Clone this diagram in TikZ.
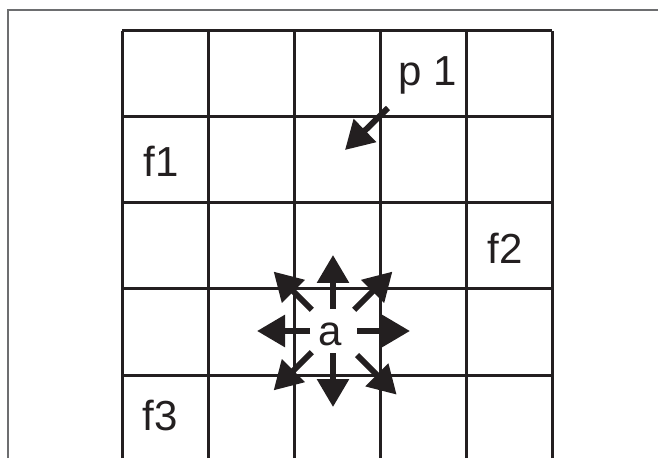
\documentclass[tikz,border=0pt]{standalone}
\usepackage{fontspec}
\setmainfont{Liberation Sans}
\usetikzlibrary{arrows.meta, calc}
\definecolor{inkblack}{HTML}{231F20}
\definecolor{framegray}{HTML}{6D6E70}
\tikzset{
  cellline/.style={line width=3pt, color=inkblack},
  push/.style={-{Triangle[length=28pt, width=31pt]}, line width=6pt, color=inkblack},
  every node/.append style={font=\fontsize{42}{46}\selectfont, inner sep=0pt, anchor=base, text=inkblack}
}

\begin{document}
\begin{tikzpicture}[x=1pt, y=1pt]
\useasboundingbox (0,0) rectangle (658,458);
\draw[framegray, line width=1.5pt] (8,0) -- (8,448) -- (658,448);
% grid
\foreach \gx in {122,208,294,380,466,552}
  \draw[cellline] (\gx,0) -- (\gx,427);
\foreach \gy in {427,341,255,169,83}
  \draw[cellline] (122,\gy) -- (552,\gy);
% labels
\node (f1) at (161,281) {f1};
\node (f2) at (505,194) {f2};
\node (f3) at (160,28) {f3};
\node (p1) at (428,372) {p 1};
\node (a) at (330,113) {a};
\coordinate (A) at (333,127);
% spreading from a
\draw[push] ($(A)+(90:22)$) -- ($(A)+(90:76)$);
\draw[push] ($(A)+(270:22)$) -- ($(A)+(270:76)$);
\draw[push] ($(A)+(180:23)$) -- ($(A)+(180:76)$);
\draw[push] ($(A)+(0:24)$) -- ($(A)+(0:77)$);
\draw[push] ($(A)+(45:30)$) -- ($(A)+(45:84)$);
\draw[push] ($(A)+(135:30)$) -- ($(A)+(135:84)$);
\draw[push] ($(A)+(225:30)$) -- ($(A)+(225:84)$);
\draw[push] ($(A)+(315:34)$) -- ($(A)+(315:90)$);
% p1 moving
\coordinate (P) at (388,350);
\coordinate (Q) at (345,308);
\draw[push] (P) -- (Q);
\end{tikzpicture}
\end{document}
